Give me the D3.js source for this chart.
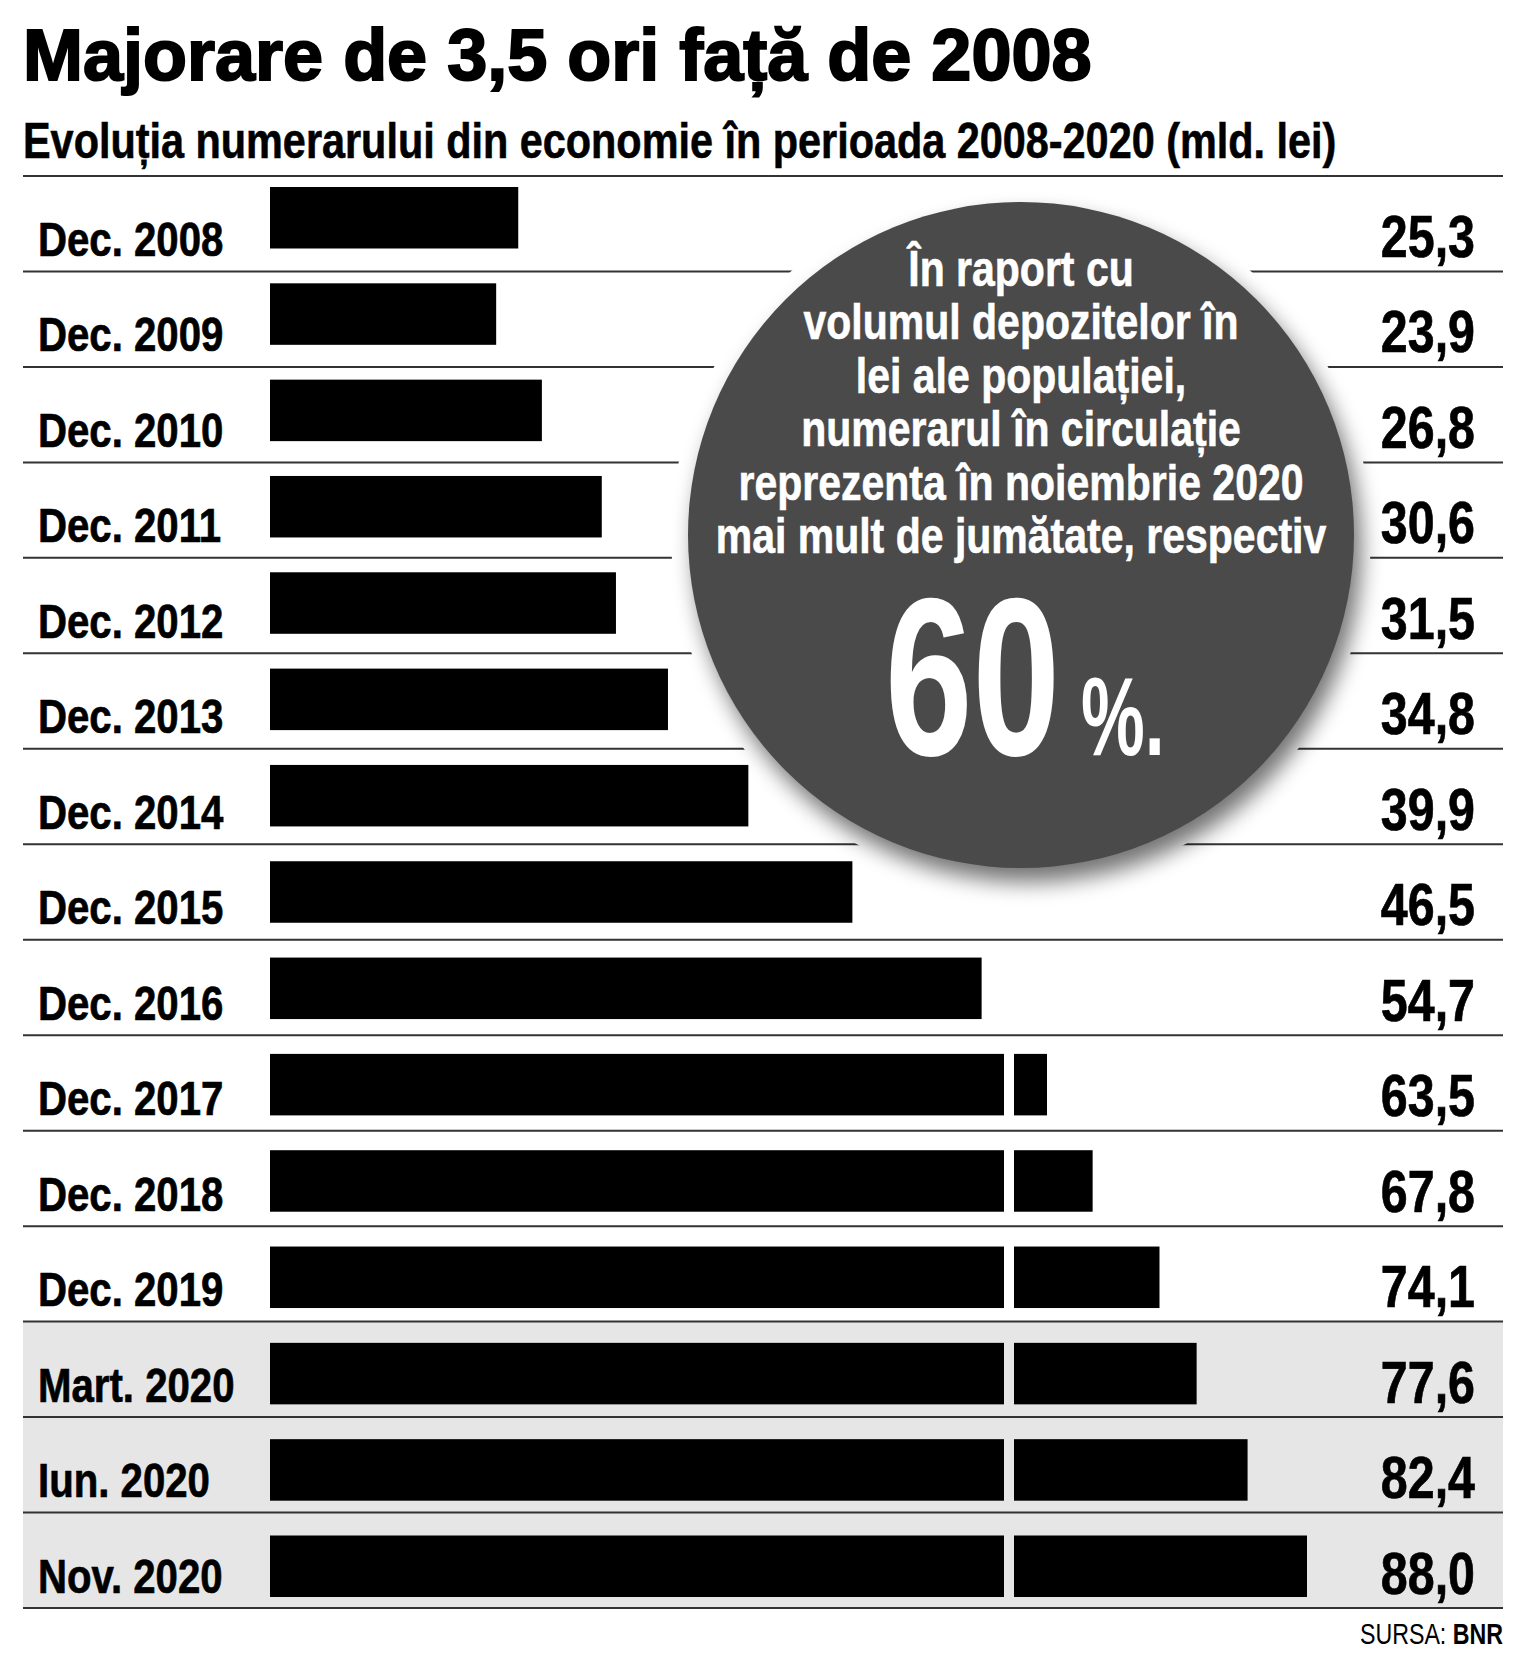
<!DOCTYPE html>
<html lang="ro">
<head>
<meta charset="utf-8">
<title>Majorare de 3,5 ori față de 2008</title>
<script src="https://cdn.jsdelivr.net/npm/d3@7"></script>
<style>
  html, body { margin: 0; padding: 0; background: #fff; }
  #graph-container { width: 1516px; height: 1661px; }
  text { font-family: "Liberation Sans", Arial, sans-serif; }
</style>
</head>
<body>
<div id="graph-container"></div>
<script>
// values in mld. lei
const categories = ["Dec. 2008", "Dec. 2009", "Dec. 2010", "Dec. 2011", "Dec. 2012", "Dec. 2013", "Dec. 2014",
  "Dec. 2015", "Dec. 2016", "Dec. 2017", "Dec. 2018", "Dec. 2019", "Mart. 2020", "Iun. 2020", "Nov. 2020"];
const values = [25.3, 23.9, 26.8, 30.6, 31.5, 34.8, 39.9, 46.5, 54.7, 63.5, 67.8, 74.1, 77.6, 82.4, 88.0];
const highlighted = ["Mart. 2020", "Iun. 2020", "Nov. 2020"];

// the axis is cut between these two values
const axisStart = 9.55;
const axisBreak = [56.12, 60.39];
const axisEnd = 88;

const title = "Majorare de 3,5 ori față de 2008";
const subtitle = "Evoluția numerarului din economie în perioada 2008-2020 (mld. lei)";
const calloutLines = ["În raport cu", "volumul depozitelor în", "lei ale populației,",
  "numerarul în circulație", "reprezenta în noiembrie 2020", "mai mult de jumătate, respectiv"];
const calloutFigure = "60";
const calloutUnit = "%.";
const source = ["SURSA: ", "BNR"];

document.addEventListener('DOMContentLoaded', () => {
    try {
        const width = 1516;
        const height = 1661;
        const left = 23, right = 1503;
        const narrow = 0.82;   // no condensed face installed, squeeze the regular one

        const svg = d3.select("#graph-container")
            .append("svg")
            .attr("width", width)
            .attr("height", height);

        const data = categories.map((c, i) => ({ cat: c, value: values[i] }));
        const fmt = v => d3.format(".1f")(v).replace(".", ",");
        const place = (x, y, sx) => `translate(${x},${y}) scale(${sx},1)`;

        // polylinear scale, the gap between the two middle stops is the break
        const x = d3.scaleLinear()
            .domain([axisStart, axisBreak[0], axisBreak[1], axisEnd])
            .range([270, 1004, 1014, 1307]);

        const yRow = d3.scaleBand().domain(categories).range([176, 1608]);
        const yBar = d3.scaleBand().domain(categories).range([187, 1597]).paddingInner(0.3615);

        // titles
        svg.append("text")
            .attr("transform", place(left, 80, 1))
            .attr("font-weight", 700)
            .attr("font-size", 72)
            .attr("stroke", "#000")
            .attr("stroke-width", 2)
            .text(title);

        svg.append("text")
            .attr("transform", place(left, 158, 0.828))
            .attr("font-weight", 700)
            .attr("font-size", 50)
            .attr("stroke", "#000")
            .attr("stroke-width", 0.6)
            .text(subtitle);

        // shaded rows
        svg.append("g")
            .selectAll("rect")
            .data(data.filter(d => highlighted.includes(d.cat)))
            .enter()
            .append("rect")
            .attr("x", left)
            .attr("y", d => yRow(d.cat))
            .attr("width", right - left)
            .attr("height", yRow.bandwidth())
            .attr("fill", "#e6e6e6");

        // row rules
        const rules = categories.map(c => yRow(c)).concat([yRow.range()[1]]);
        svg.append("g")
            .selectAll("line")
            .data(rules)
            .enter()
            .append("line")
            .attr("x1", left)
            .attr("x2", right)
            .attr("y1", d => d)
            .attr("y2", d => d)
            .attr("stroke", "#333")
            .attr("stroke-width", 2);

        // callout bubble
        const cx = 1021, cy = 535, r = 333;
        const defs = svg.append("defs");
        defs.append("filter")
            .attr("id", "soft")
            .attr("x", "-30%").attr("y", "-30%")
            .attr("width", "160%").attr("height", "160%")
            .append("feGaussianBlur")
            .attr("stdDeviation", 11);

        const bubble = svg.append("g");
        bubble.append("circle")
            .attr("cx", cx).attr("cy", cy).attr("r", 350)
            .attr("fill", "#fff");
        bubble.append("circle")
            .attr("cx", cx + 7).attr("cy", cy + 14).attr("r", r)
            .attr("fill", "#000")
            .attr("opacity", 0.55)
            .attr("filter", "url(#soft)");
        bubble.append("circle")
            .attr("cx", cx).attr("cy", cy).attr("r", r)
            .attr("fill", "#4a4a4a");

        bubble.append("g")
            .selectAll("text")
            .data(calloutLines)
            .enter()
            .append("text")
            .attr("transform", (d, i) => place(cx, 286 + i * 53.4, narrow))
            .attr("text-anchor", "middle")
            .attr("font-weight", 700)
            .attr("font-size", 50)
            .attr("fill", "#fff")
            .attr("stroke", "#fff")
            .attr("stroke-width", 0.6)
            .text(d => d);

        bubble.append("text")
            .attr("transform", place(885, 755, 0.7))
            .attr("font-weight", 700)
            .attr("font-size", 225)
            .attr("fill", "#fff")
            .text(calloutFigure);

        bubble.append("text")
            .attr("transform", place(1081, 755, 0.64))
            .attr("font-weight", 700)
            .attr("font-size", 112)
            .attr("fill", "#fff")
            .text(calloutUnit);

        // bars, split at the axis break
        const bars = svg.append("g");
        data.forEach(d => {
            const y0 = yBar(d.cat);
            const parts = d.value > axisBreak[0]
                ? [[axisStart, axisBreak[0]], [axisBreak[1], d.value]]
                : [[axisStart, d.value]];
            parts.forEach(([a, b]) => {
                bars.append("rect")
                    .attr("x", x(a))
                    .attr("y", y0)
                    .attr("width", x(b) - x(a))
                    .attr("height", yBar.bandwidth())
                    .attr("fill", "#000");
            });
        });

        // category labels and values
        svg.append("g")
            .selectAll("text")
            .data(data)
            .enter()
            .append("text")
            .attr("transform", d => place(38, yRow(d.cat) + 80, narrow))
            .attr("font-weight", 700)
            .attr("font-size", 49)
            .attr("stroke", "#000")
            .attr("stroke-width", 0.7)
            .text(d => d.cat);

        svg.append("g")
            .selectAll("text")
            .data(data)
            .enter()
            .append("text")
            .attr("transform", d => place(1475, yRow(d.cat) + 81, narrow))
            .attr("text-anchor", "end")
            .attr("font-weight", 700)
            .attr("font-size", 59)
            .attr("stroke", "#000")
            .attr("stroke-width", 0.7)
            .text(d => fmt(d.value));

        // source
        const src = svg.append("text")
            .attr("transform", place(right, 1644, 0.8))
            .attr("text-anchor", "end")
            .attr("font-size", 29);
        src.append("tspan").text(source[0]);
        src.append("tspan").attr("font-weight", 700).text(source[1]);

        console.log("Chart drawn");
    } catch (error) {
        console.error("An error occurred:", error);
    }
});
</script>
</body>
</html>
